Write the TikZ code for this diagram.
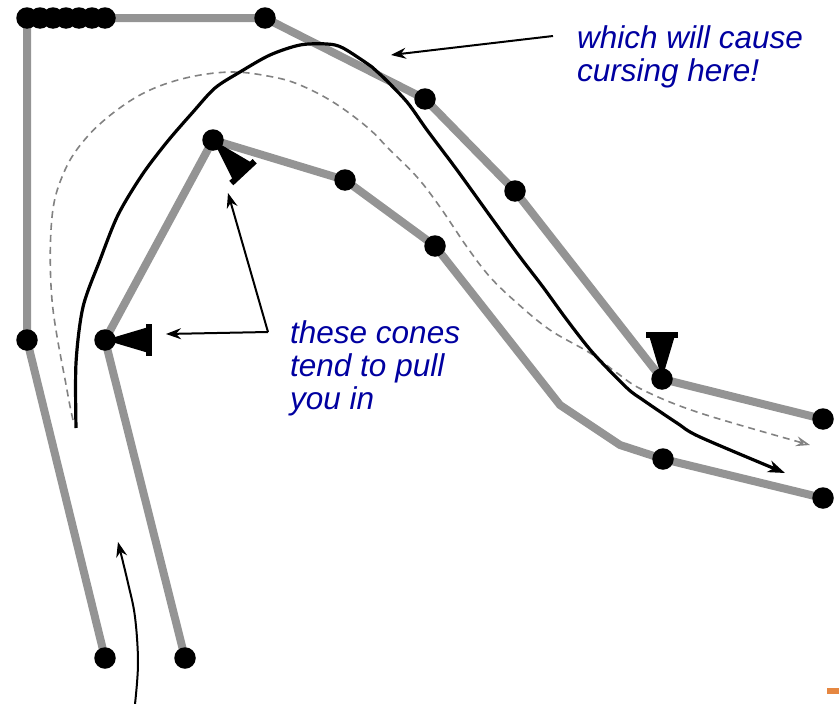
\documentclass[tikz,border=0pt]{standalone}
\usepackage{fontspec}
\setmainfont{Liberation Sans}
\usetikzlibrary{arrows.meta}
\definecolor{track}{RGB}{148,148,148}
\definecolor{txtblue}{RGB}{0,0,160}
\definecolor{dashgray}{RGB}{130,130,130}
\definecolor{orangemark}{RGB}{230,135,65}
\begin{document}
\begin{tikzpicture}[x=1pt,y=-1pt,
  dot/.style={circle,fill=black,inner sep=0pt,minimum size=21.5pt},
  trackline/.style={draw=track,line width=8pt,line join=round,line cap=round},
  racing/.style={draw=black,line width=3.2pt,line join=round,-{Stealth[length=17pt,width=12pt,inset=5pt]}},
  dashline/.style={draw=dashgray,line width=1.6pt,dash pattern=on 7pt off 5pt,-{Stealth[length=14pt,width=10pt,inset=5pt,open]}},
  thinarrow/.style={draw=black,line width=2pt,-{Stealth[length=15pt,width=11pt,inset=5pt]}},
  label/.style={text=txtblue,font=\fontsize{31.5}{33}\selectfont\itshape,align=left,inner sep=0pt,anchor=north west},
  cone/.pic={\fill (0,0) -- (42,-12.5) -- (42,12.5) -- cycle; \fill (41,-16) rectangle (47,16);}
]
\useasboundingbox (0,0) rectangle (839,704);

% outer track
\coordinate (o1) at (105,658);
\coordinate (o2) at (27,340);
\coordinate (o3) at (27,18);
\coordinate (o4) at (265,18);
\coordinate (o5) at (425,99);
\coordinate (o6) at (515,191);
\coordinate (o7) at (662,379);
\coordinate (o8) at (823,419);
% inner track
\coordinate (i1) at (185,658);
\coordinate (i2) at (105,340);
\coordinate (i3) at (213,140);
\coordinate (i4) at (345,180);
\coordinate (i5) at (435,246);
\coordinate (i6) at (560,405);
\coordinate (i7) at (620,445);
\coordinate (i8) at (663,459);
\coordinate (i9) at (823,498);

\draw[trackline] (o1) -- (o2) -- (o3) -- (o4) -- (o5) -- (o6) -- (o7) -- (o8);
\draw[trackline] (i1) -- (i2) -- (i3) -- (i4) -- (i5) -- (i6) -- (i7) -- (i8) -- (i9);

% dots
\foreach \n in {o1,o2,o4,o5,o6,o7,o8,i1,i2,i3,i4,i5,i8,i9}
  \node[dot] (d\n) at (\n) {};
\foreach \k in {0,...,6}
  \node[dot] (dtop\k) at ({27+13*\k},18) {};

% cones
\pic (coneA) at (i2) {cone};
\pic[rotate=-47] (coneB) at (i3) {cone};
\pic[rotate=90] (coneC) at (o7) {cone};

% dashed line
\coordinate (ds) at (73,420);
\coordinate (de) at (810,445);
\draw[dashline] plot[smooth,tension=0.6] coordinates {(ds) (67,390) (52,300) (52,217) (65,170) (87,137) (117,110) (150,90) (190,77) (233,72) (273,77) (300,85) (333,102) (367,127) (390,150) (417,177) (440,207) (467,247) (490,277) (517,303) (550,330) (590,353) (617,373) (643,390) (700,413) (de)};

% racing line
\coordinate (rs) at (76,428);
\coordinate (re) at (785,473);
\draw[racing] plot[smooth,tension=0.5] coordinates {(rs) (76,363) (83,307) (100,260) (118,215) (142,175) (167,142) (193,112) (215,88) (240,72) (270,55) (300,45) (327,44) (343,48) (372,67) (383,77) (407,102) (427,130) (457,170) (493,220) (520,257) (543,287) (567,320) (593,353) (627,388) (643,400) (677,423) (700,437) (re)};

% entry arrow
\coordinate (es) at (135,704);
\coordinate (ee) at (118,542);
\draw[thinarrow] plot[smooth,tension=0.6] coordinates {(es) (138,663) (135,617) (128,583) (ee)};

% labels
\node[label] (t1) at (577,25) {which will cause\\cursing here!};
\node[label] (t2) at (290,320) {these cones\\tend to pull\\you in};

\coordinate (a1s) at (553,36);
\coordinate (a1e) at (391,55);
\draw[thinarrow] (a1s) -- (a1e);
\coordinate (a2s) at (268,332);
\coordinate (a2e) at (228,193);
\coordinate (a3e) at (166,334);
\draw[thinarrow] (a2s) -- (a2e);
\draw[thinarrow] (a2s) -- (a3e);

% orange mark
\fill[orangemark] (827,688) rectangle (839,694);
\end{tikzpicture}
\end{document}
